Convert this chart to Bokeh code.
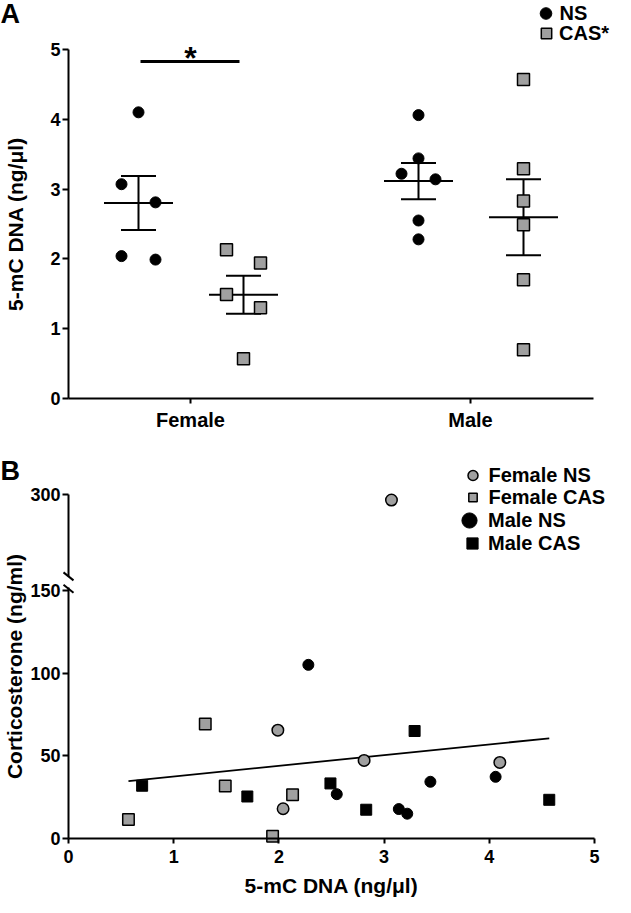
import math
import numpy as np
from bokeh.plotting import figure
from bokeh.layouts import column
from bokeh.models import Range1d, FixedTicker, Legend, LegendItem, Label, LinearAxis
from bokeh.core.properties import value
from bokeh.embed import file_html
from bokeh.resources import INLINE

# ---------------- data ----------------
sexes = ["Female", "Male"]
group_labels_a = ["NS", "CAS*"]
group_labels_b = ["Female NS", "Female CAS", "Male NS", "Male CAS"]

# 5-mC DNA (ng/ul)
female_ns_dna = [4.10, 3.07, 2.81, 2.04, 1.99]
female_cas_dna = [2.13, 1.94, 1.49, 1.30, 0.57]
male_ns_dna = [4.06, 3.44, 3.22, 3.14, 2.55, 2.28]
male_cas_dna = [4.57, 3.29, 2.83, 2.49, 1.70, 0.70]

# corticosterone (ng/ml), same animals / order
female_ns_cort = [46.0, 293.0, 47.2, 18.0, 65.5]
female_cas_cort = [26.5, 1.4, 31.7, 69.2, 11.5]
male_ns_cort = [37.3, 34.3, 15.0, 17.8, 26.8, 105.0]
male_cas_cort = [23.4, 65.0, 17.4, 33.3, 25.4, 31.9]

# horizontal scatter slots inside each group (panel A)
female_ns_slot = [0, -1, 1, -1, 1]
female_cas_slot = [-1, 1, -1, 1, 0]
male_ns_slot = [0, 0, -1, 1, 0, 0]
male_cas_slot = [0, 0, 0, 0, 0, 0]

a_y_ticks = [0, 1, 2, 3, 4, 5]
b_x_ticks = [0, 1, 2, 3, 4, 5]
b_y_ticks_low = [0, 50, 100, 150]
b_y_ticks_high = [300]

# ---------------- style ----------------
FONT = "Liberation Sans"
GRAY = "#a0a0a0"
TICK_FS = "18px"
LABEL_FS = "21px"
LEG_FS = "20px"
W = 615
HA, HB = 430, 467


def style_axis(ax, tick_out, standoff, fs=TICK_FS):
    ax.axis_line_width = 2
    ax.axis_line_color = "black"
    ax.major_tick_line_width = 2
    ax.major_tick_line_color = "black"
    ax.minor_tick_line_color = None
    ax.major_tick_in = 0
    ax.major_tick_out = tick_out
    ax.major_label_standoff = standoff
    ax.major_label_text_font = FONT
    ax.major_label_text_font_style = "bold"
    ax.major_label_text_font_size = fs
    ax.major_label_text_color = "black"


def bold_label(p, x, y, text, size, angle=0.0, align="left"):
    p.add_layout(Label(x=x, y=y, text=text, angle=angle, text_align=align,
                       text_baseline="middle", text_font=FONT,
                       text_font_style="bold", text_font_size=size,
                       text_color="black"))


def add_legend(p, fig_h, renderer, label, size, cx, cy, text_x, fs):
    gw = int(round(size / 0.4))
    gh = 44
    leg = Legend(items=[LegendItem(label=value(label), renderers=[renderer])],
                 location=(cx - gw / 2, fig_h - (cy + gh / 2)),
                 glyph_width=gw, glyph_height=gh, label_height=gh,
                 label_standoff=max(0, int(round(text_x - (cx + gw / 2)))),
                 padding=0, margin=0, spacing=0, border_line_color=None,
                 background_fill_alpha=0, label_text_font=FONT,
                 label_text_font_style="bold", label_text_font_size=fs,
                 label_text_color="black")
    p.add_layout(leg)


# ---------------- panel A ----------------
PXA, PYA = 280.0, 69.8          # px per unit
A_X1_PX, A_Y0_PX = 190.0, 398.0  # pixel of x=1 and y=0


def a_x(px):
    return 1 + (px - A_X1_PX) / PXA


def a_y(py):
    return (A_Y0_PX - py) / PYA


XA0, XA1 = a_x(68), a_x(593)
NS_OFF, CAS_OFF = -52 / PXA, 53 / PXA
SLOT = 17 / PXA
MEAN_HW = 34.5 / PXA
CAP_HW = 17.5 / PXA

pa = figure(width=W, height=HA, output_backend="svg", toolbar_location=None,
            x_range=Range1d(a_x(0), a_x(W)), y_range=Range1d(a_y(HA), a_y(0)),
            x_axis_type=None, y_axis_type=None, min_border=0,
            min_border_left=0, min_border_right=0, min_border_top=0, min_border_bottom=0)
pa.outline_line_color = None
pa.background_fill_color = "white"
pa.border_fill_color = "white"

ya = LinearAxis(fixed_location=XA0, bounds=(0, 5), ticker=FixedTicker(ticks=a_y_ticks))
style_axis(ya, 6, 2)
pa.add_layout(ya, "left")
xa = LinearAxis(fixed_location=0, bounds=(XA0, XA1), ticker=FixedTicker(ticks=[1, 2]))
xa.major_label_overrides = {1: sexes[0], 2: sexes[1]}
style_axis(xa, 5, 5, "20px")
pa.add_layout(xa, "below")

groups_a = [
    (1 + NS_OFF, female_ns_dna, female_ns_slot, "ns"),
    (1 + CAS_OFF, female_cas_dna, female_cas_slot, "cas"),
    (2 + NS_OFF, male_ns_dna, male_ns_slot, "ns"),
    (2 + CAS_OFF, male_cas_dna, male_cas_slot, "cas"),
]

# mean +/- SEM
mx0, mx1, my = [], [], []
vx, vy0, vy1 = [], [], []
for c, vals, _, _ in groups_a:
    arr = np.array(vals)
    m = arr.mean()
    sem = arr.std(ddof=1) / math.sqrt(len(arr))
    mx0.append(c - MEAN_HW); mx1.append(c + MEAN_HW); my.append(m)
    mx0 += [c - CAP_HW, c - CAP_HW]; mx1 += [c + CAP_HW, c + CAP_HW]; my += [m + sem, m - sem]
    vx.append(c); vy0.append(m - sem); vy1.append(m + sem)
pa.segment(x0=mx0, y0=my, x1=mx1, y1=my, line_color="black", line_width=2)
pa.segment(x0=vx, y0=vy0, x1=vx, y1=vy1, line_color="black", line_width=2)

ns_x, ns_y, cas_x, cas_y = [], [], [], []
for c, vals, slots, kind in groups_a:
    xs = [c + s * SLOT for s in slots]
    if kind == "ns":
        ns_x += xs; ns_y += vals
    else:
        cas_x += xs; cas_y += vals
r_ns = pa.scatter(ns_x, ns_y, marker="circle", size=11, fill_color="black",
                  line_color="black", line_width=1)
r_cas = pa.scatter(cas_x, cas_y, marker="square", size=12, fill_color=GRAY,
                   line_color="black", line_width=1.5)

# significance bar + star
pa.segment(x0=[a_x(140)], y0=[a_y(61)], x1=[a_x(239)], y1=[a_y(61)],
           line_color="black", line_width=3)
bold_label(pa, 1.0, a_y(57.5), "*", "32px", align="center")

bold_label(pa, a_x(0), a_y(13.5), "A", "27px")
bold_label(pa, a_x(15), 2.5, "5-mC DNA (ng/\u03bcl)", LABEL_FS, angle=math.pi / 2,
           align="center")

add_legend(pa, HA, r_ns, group_labels_a[0], 11.6, 545, 13, 559, LEG_FS)
add_legend(pa, HA, r_cas, group_labels_a[1], 10.4, 546, 33, 559, LEG_FS)

# ---------------- panel B ----------------
UP_VAL0, UP_DISP0, UP_SCALE = 200.0, 160.0, 0.48
BREAK_LO, BREAK_HI = 152.0, 158.5


def to_disp(v):
    return v if v <= 150 else UP_DISP0 + (v - UP_VAL0) * UP_SCALE


YB_TOP = to_disp(b_y_ticks_high[0])
PXB = 105.2
B_X0_PX, B_Y0_PX, B_TOP_PX = 68.0, 408.0, 64.0
PYB = (B_Y0_PX - B_TOP_PX) / YB_TOP


def b_x(px):
    return (px - B_X0_PX) / PXB


def b_y(py):
    return (B_Y0_PX - py) / PYB


pb = figure(width=W, height=HB, output_backend="svg", toolbar_location=None,
            x_range=Range1d(b_x(0), b_x(W)), y_range=Range1d(b_y(HB), b_y(0)),
            x_axis_type=None, y_axis_type=None, min_border=0,
            min_border_left=0, min_border_right=0, min_border_top=0, min_border_bottom=0)
pb.outline_line_color = None
pb.background_fill_color = "white"
pb.border_fill_color = "white"

xb = LinearAxis(fixed_location=0, bounds=(0, 5), ticker=FixedTicker(ticks=b_x_ticks))
style_axis(xb, 5, 6)
pb.add_layout(xb, "below")
yb_lo = LinearAxis(fixed_location=0, bounds=(0, BREAK_LO),
                   ticker=FixedTicker(ticks=b_y_ticks_low))
style_axis(yb_lo, 6, 2)
pb.add_layout(yb_lo, "left")
hi_disp = [to_disp(t) for t in b_y_ticks_high]
yb_hi = LinearAxis(fixed_location=0, bounds=(BREAK_HI, YB_TOP + 0.01),
                   ticker=FixedTicker(ticks=hi_disp))
yb_hi.major_label_overrides = {d: str(t) for d, t in zip(hi_disp, b_y_ticks_high)}
style_axis(yb_hi, 6, 2)
pb.add_layout(yb_hi, "left")

# axis-break marks
sdx, sdy = 5 / PXB, 4 / PYB
pb.segment(x0=[-sdx, -sdx], y0=[BREAK_HI + sdy, BREAK_LO - 1 + sdy],
           x1=[sdx, sdx], y1=[BREAK_HI - sdy, BREAK_LO - 1 - sdy],
           line_color="black", line_width=2)

# regression line over all animals
all_x = female_ns_dna + female_cas_dna + male_ns_dna + male_cas_dna
all_y = female_ns_cort + female_cas_cort + male_ns_cort + male_cas_cort
slope, intercept = np.polyfit(all_x, all_y, 1)
lx = [min(all_x), max(all_x)]
pb.line(lx, [to_disp(slope * v + intercept) for v in lx], line_color="black", line_width=1.8)

r_fns = pb.scatter(female_ns_dna, [to_disp(v) for v in female_ns_cort], marker="circle",
                   size=11.5, fill_color=GRAY, line_color="black", line_width=1.5)
r_fcas = pb.scatter(female_cas_dna, [to_disp(v) for v in female_cas_cort], marker="square",
                    size=11.5, fill_color=GRAY, line_color="black", line_width=1.5)
r_mns = pb.scatter(male_ns_dna, [to_disp(v) for v in male_ns_cort], marker="circle",
                   size=11, fill_color="black", line_color="black", line_width=1)
r_mcas = pb.scatter(male_cas_dna, [to_disp(v) for v in male_cas_cort], marker="square",
                    size=11, fill_color="black", line_color="black", line_width=1)

add_legend(pb, HB, r_fns, group_labels_b[0], 10, 472, 45, 488, LEG_FS)
add_legend(pb, HB, r_fcas, group_labels_b[1], 8.5, 472, 67, 488, LEG_FS)
add_legend(pb, HB, r_mns, group_labels_b[2], 15.2, 469, 90, 488, LEG_FS)
add_legend(pb, HB, r_mcas, group_labels_b[3], 11, 472, 113, 488, LEG_FS)

bold_label(pb, b_x(0), b_y(40), "B", "27px")
bold_label(pb, b_x(14), YB_TOP / 2, "Corticosterone (ng/ml)", LABEL_FS, angle=math.pi / 2,
           align="center")
bold_label(pb, 2.5, b_y(455), "5-mC DNA (ng/\u03bcl)", LABEL_FS, align="center")

layout = column(pa, pb)
open("out.html", "w").write(file_html(layout, INLINE))
